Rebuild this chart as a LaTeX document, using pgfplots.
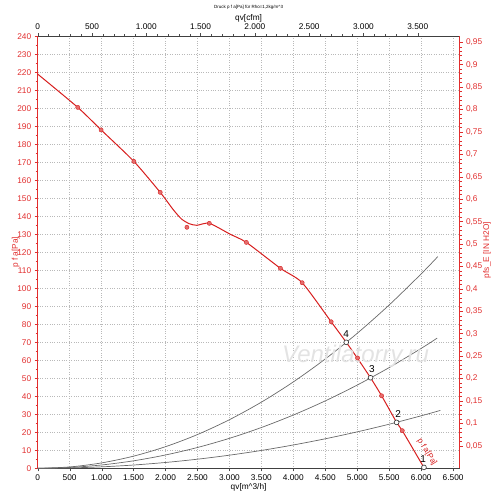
\documentclass[border=0pt]{standalone}
\usepackage{fontspec}
\setmainfont{Liberation Sans}
\usepackage{pgfplots}
\pgfplotsset{compat=1.18}
\definecolor{axred}{RGB}{225,45,45}
\definecolor{curvered}{RGB}{215,30,30}
\definecolor{sysgray}{RGB}{105,105,105}
\begin{document}
\begin{tikzpicture}
\path[use as bounding box] (-37.7pt,-34.7pt) rectangle (462.3pt,468.3pt);
\begin{axis}[
  scale only axis, width=421.8pt, height=432pt,
  xmin=0, xmax=6600, ymin=0, ymax=240,
  axis x line*=bottom, axis y line*=left,
  xtick={0,500,...,6500}, ytick={0,10,...,240},
  minor y tick num=1,
  grid=major, grid style={dotted, gray!55, line width=0.6pt},
  tick label style={font=\fontsize{8.3}{9}\selectfont},
  /pgf/number format/assume math mode=true,
  /pgf/number format/1000 sep={.},
  x axis line style={-, black!75, line width=1pt},
  y axis line style={-, axred, line width=1pt},
  y tick label style={text=axred},
  ytick style={axred, line width=0.6pt},
  xtick style={black!70},
  tick align=outside,
  major tick length=3pt, minor tick length=2pt,
  xlabel={qv[m\textasciicircum 3/h]},
  x label style={at={(axis description cs:0.5,0)}, anchor=center, yshift=-19pt, font=\fontsize{8.3}{9}\selectfont},
  ylabel={p f a[Pa]},
  y label style={at={(axis description cs:0,0.5)}, anchor=center, yshift=22pt, text=axred, font=\fontsize{8.3}{9}\selectfont},
  clip=true,
]
% system curves
\addplot[sysgray, line width=0.7pt, smooth] coordinates {
 (0,0) (500,0.75) (1000,3) (1500,6.75) (2000,12) (2500,18.75) (3000,27) (3500,36.75)
 (4000,48) (4500,60.75) (5000,75) (5500,90.75) (6000,108) (6260,117.6)};
\addplot[sysgray, line width=0.7pt, smooth] coordinates {
 (0,0) (500,0.46) (1000,1.85) (1500,4.16) (2000,7.4) (2500,11.56) (3000,16.65) (3500,22.66)
 (4000,29.6) (4500,37.46) (5000,46.25) (5500,55.96) (6000,66.6) (6250,72.3)};
\addplot[sysgray, line width=0.7pt, smooth] coordinates {
 (0,0) (500,0.2) (1000,0.81) (1500,1.82) (2000,3.24) (2500,5.06) (3000,7.29) (3500,9.92)
 (4000,12.96) (4500,16.4) (5000,20.25) (5500,24.5) (6000,29.16) (6300,32.15)};
% fan curve
\addplot[curvered, line width=1pt, smooth, tension=0.4] coordinates {
 (0,219) (627,200.5) (992,188) (1505,170.5) (1917,153.3) (2125,143.5) (2250,138.5)
 (2370,135.9) (2490,135) (2685,136.1) (3014,130) (3265,125.5) (3798,111.1)
 (4138,103.1) (4592,81.4) (4828,70) (5000,61.3) (5208,50.3) (5381,40.3)
 (5616,25.5) (5705,20.9) (6050,0)};
\addplot[only marks, mark=*, mark size=2.1pt, mark options={draw=curvered, fill=curvered!65}] coordinates {
 (627,200.5) (992,188) (1505,170.5) (1917,153.3) (2335,133.9) (2685,136.1)
 (3265,125.5) (3798,111.1) (4138,103.1) (4592,81.4) (5005,61.3) (5381,40.3) (5705,20.9)};
% operating points
\addplot[only marks, mark=*, mark size=2.4pt, mark options={draw=black!80, fill=white, line width=0.6pt}] coordinates {
 (4828,70) (5208,50.3) (5616,25.5) (6044,0.5)};
\node[anchor=south, font=\fontsize{10}{10}\selectfont, inner sep=0pt] at (axis cs:4828,72.5) {4};
\node[anchor=south, font=\fontsize{10}{10}\selectfont, inner sep=0pt] at (axis cs:5230,52.8) {3};
\node[anchor=south, font=\fontsize{10}{10}\selectfont, inner sep=0pt] at (axis cs:5640,28) {2};
\node[anchor=south, font=\fontsize{10}{10}\selectfont, inner sep=0pt] at (axis cs:6030,3) {1};
% watermark
\node[font=\fontsize{24}{24}\selectfont\itshape, text=gray!22] at (axis cs:4973,62) {Ventilatorry.ru};
\end{axis}
\begin{axis}[
  scale only axis, width=421.8pt, height=432pt,
  xmin=0, xmax=3884.6, ymin=0, ymax=0.96351,
  axis x line*=top, axis y line*=right,
  clip=false,
  xtick={0,500,...,3500},
  ytick={0.05,0.1,0.15,0.2,0.25,0.3,0.35,0.4,0.45,0.5,0.55,0.6,0.65,0.7,0.75,0.8,0.85,0.9,0.95},
  minor x tick num=4, minor y tick num=4,
  tick label style={font=\fontsize{8.3}{9}\selectfont},
  /pgf/number format/assume math mode=true,
  x tick label style={/pgf/number format/1000 sep={.}},
  y tick label style={text=axred, /pgf/number format/.cd, use comma, fixed, precision=2},
  x axis line style={-, black!75, line width=1pt},
  y axis line style={-, axred, line width=1pt},
  ytick style={axred, line width=0.6pt},
  xtick style={black!70},
  tick align=outside,
  major tick length=3pt, minor tick length=2pt,
  xlabel={qv[cfm]},
  x label style={at={(axis description cs:0.5,1)}, anchor=center, yshift=18pt, font=\fontsize{8.3}{9}\selectfont},
  ylabel={pfs\_E [IN H2O]},
  y label style={at={(axis description cs:1,0.505)}, anchor=center, yshift=-27.5pt, text=axred, font=\fontsize{8.3}{9}\selectfont},
]
\addplot[draw=none] coordinates {(0,0)};
\node[font=\fontsize{4.5}{5}\selectfont] at (axis description cs:0.5,1) [yshift=29pt] {Druck p f a[Pa] für Rho=1,2kg/m\textasciicircum 3};
\end{axis}
\begin{axis}[
  scale only axis, width=421.8pt, height=432pt,
  xmin=0, xmax=6600, ymin=0, ymax=240,
  hide axis, clip=false,
]
\node[rotate=-58, text=curvered, font=\fontsize{8}{8}\selectfont] at (axis cs:6090,9) {p f a[Pa]};
\end{axis}
\end{tikzpicture}
\end{document}
